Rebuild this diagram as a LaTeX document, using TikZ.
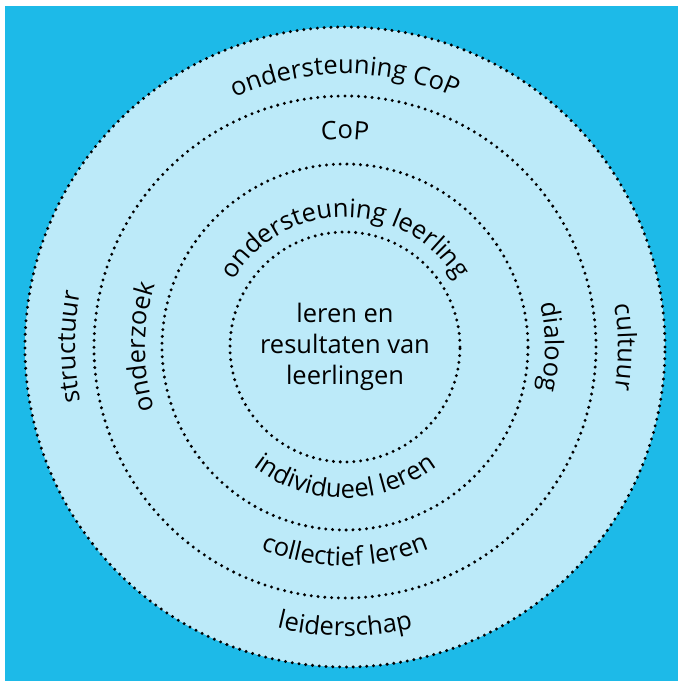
\documentclass[tikz,border=0pt]{standalone}
\usepackage{fontspec}
\setmainfont{Open Sans}
\usetikzlibrary{decorations.text}

\definecolor{skyblue}{RGB}{29,186,232}
\definecolor{paleblue}{RGB}{188,234,249}
\newcommand{\ringfont}{\fontsize{25.5}{31}\selectfont}

\tikzset{
    dotline/.style={line width=3.3pt, line cap=round, dash pattern=on 0pt off 6.8pt},
    ringtext/.style={decorate, decoration={text along path, text align=center, text={|\ringfont|#1}}}
}

\begin{document}
\begin{tikzpicture}[x=1pt,y=1pt]

    % Page and background
    \useasboundingbox (-345,-334) rectangle (333,347);
    \fill[skyblue] (-340,-334) rectangle (333,341);

    % Rings
    \fill[paleblue] (0,0) circle (320);
    \draw[dotline] (0,0) circle (320);
    \draw[dotline] (0,0) circle (251);
    \draw[dotline] (0,0) circle (183);
    \draw[dotline] (0,0) circle (115);

    % Centre
    \node[font=\ringfont, align=center] (core) at (0,0) {leren en\\resultaten van\\leerlingen};

    % Outer ring
    \path[ringtext={ondersteuning CoP}] (150:273) arc[start angle=150, end angle=30, radius=273];
    \path[ringtext={leiderschap}] (220:289) arc[start angle=220, end angle=320, radius=289];
    \path[ringtext={structuur}] (210:270) arc[start angle=210, end angle=150, radius=270];
    \path[ringtext={cultuur}] (30:273) arc[start angle=30, end angle=-30, radius=273];

    % Middle ring
    \path[ringtext={CoP}] (140:208) arc[start angle=140, end angle=40, radius=208];
    \path[ringtext={collectief leren}] (220:219) arc[start angle=220, end angle=320, radius=219];
    \path[ringtext={onderzoek}] (220:200) arc[start angle=220, end angle=140, radius=200];
    \path[ringtext={dialoog}] (40:200) arc[start angle=40, end angle=-40, radius=200];

    % Inner ring
    \path[ringtext={ondersteuning leerling}] (175:130) arc[start angle=175, end angle=5, radius=130];
    \path[ringtext={individueel leren}] (190:151) arc[start angle=190, end angle=350, radius=151];

\end{tikzpicture}
\end{document}
